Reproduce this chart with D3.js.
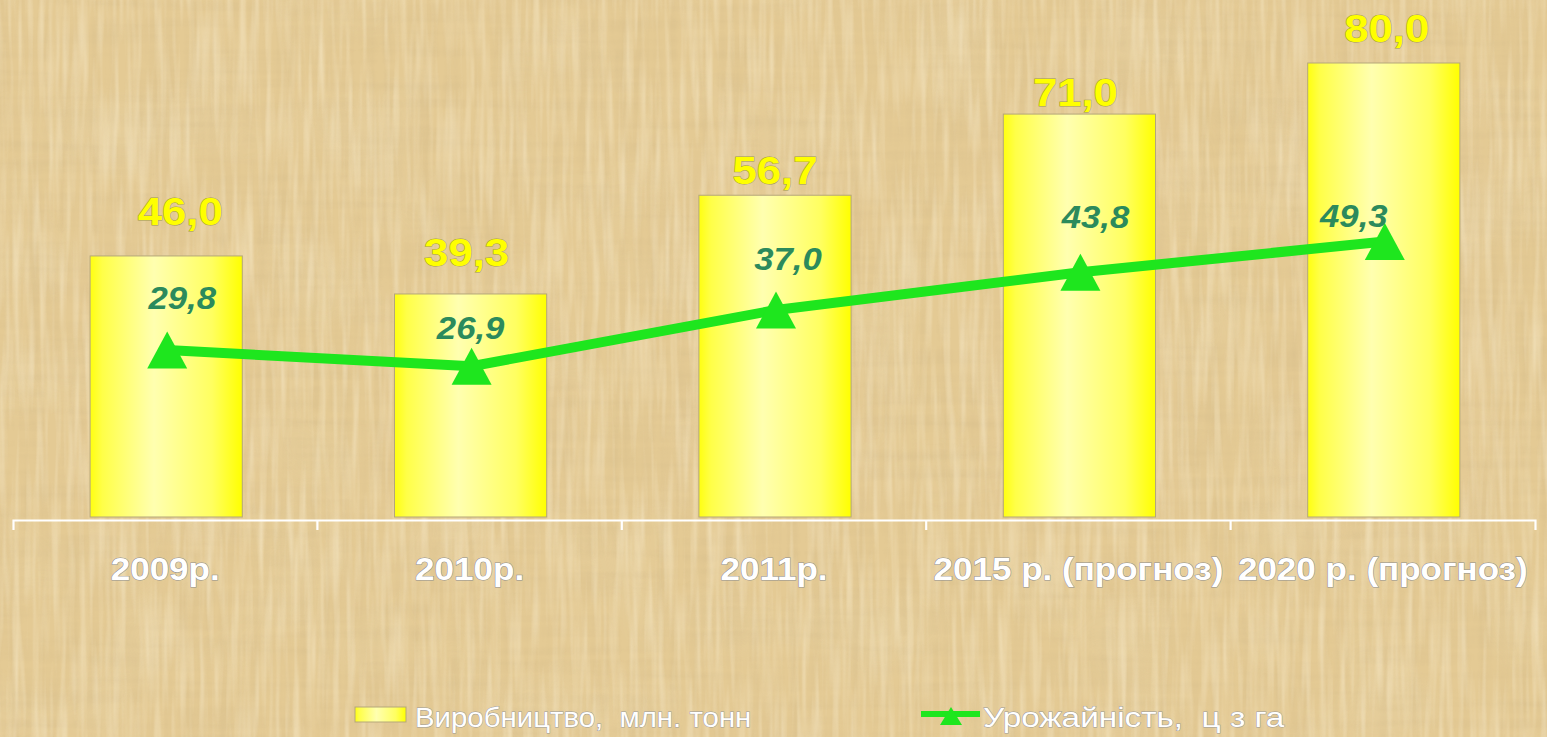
<!DOCTYPE html>
<html><head><meta charset="utf-8">
<script src="https://cdn.jsdelivr.net/npm/d3@7/dist/d3.min.js"></script>
<style>
html,body{margin:0;padding:0;background:#e4ca94;}
svg{display:block;}
text{font-family:"Liberation Sans",Arial,sans-serif;white-space:pre;}
</style></head>
<body>
<svg id="chart" width="1547" height="737"></svg>
<script>
// ---- data ----
const categories = ["2009р.", "2010р.", "2011р.", "2015 р. (прогноз)", "2020 р. (прогноз)"];
const production = [46.0, 39.3, 56.7, 71.0, 80.0];   // Виробництво, млн. тонн
const yieldValues = [29.8, 26.9, 37.0, 43.8, 49.3];  // Урожайність, ц з га
const seriesNames = ["Виробництво,  млн. тонн", "Урожайність,  ц з га"];

// label nudges (styling only, px)
const barLabelNudge = [[14,-31],[-4,-28],[0,-11],[-4,-8],[3,-21]];
const lineLabelNudge = [[15,-41],[-1,-27],[12,-40],[15,-44],[-31,-15]];

const W = 1547, H = 737;
const svg = d3.select("#chart");
const defs = svg.append("defs");

// paper texture
const f = defs.append("filter").attr("id","paper").attr("x",0).attr("y",0).attr("width","100%").attr("height","100%");
f.append("feTurbulence").attr("type","fractalNoise").attr("baseFrequency","0.006 0.1").attr("numOctaves",3).attr("seed",3).attr("result","h");
f.append("feTurbulence").attr("type","fractalNoise").attr("baseFrequency","0.1 0.006").attr("numOctaves",3).attr("seed",9).attr("result","v");
f.append("feComposite").attr("in","h").attr("in2","v").attr("operator","arithmetic").attr("k2",0.45).attr("k3",0.55).attr("result","n");
f.append("feColorMatrix").attr("in","n").attr("type","matrix")
  .attr("values","0 0 0 0 0.62  0 0 0 0 0.47  0 0 0 0 0.24  -1.6 0 0 0 0.95");
const f2 = defs.append("filter").attr("id","paper2").attr("x",0).attr("y",0).attr("width","100%").attr("height","100%");
f2.append("feTurbulence").attr("type","fractalNoise").attr("baseFrequency","0.15 0.01").attr("numOctaves",2).attr("seed",21).attr("result","h");
f2.append("feColorMatrix").attr("in","h").attr("type","matrix")
  .attr("values","0 0 0 0 0.98  0 0 0 0 0.90  0 0 0 0 0.70  1.6 0 0 0 -0.65");
const f3 = defs.append("filter").attr("id","paper3").attr("x",0).attr("y",0).attr("width","100%").attr("height","100%");
f3.append("feTurbulence").attr("type","fractalNoise").attr("baseFrequency","0.012 0.012").attr("numOctaves",1).attr("seed",5).attr("result","b");
f3.append("feColorMatrix").attr("in","b").attr("type","matrix")
  .attr("values","0 0 0 0 0.80  0 0 0 0 0.66  0 0 0 0 0.40  -2 0 0 0 1.05");

svg.append("rect").attr("width",W).attr("height",H).attr("fill","#e4ca94");
svg.append("rect").attr("width",W).attr("height",H).attr("filter","url(#paper3)").attr("opacity",0.5);
svg.append("rect").attr("width",W).attr("height",H).attr("filter","url(#paper)").attr("opacity",0.5);
svg.append("rect").attr("width",W).attr("height",H).attr("filter","url(#paper2)").attr("opacity",0.55);

// bar gradient
const g = defs.append("linearGradient").attr("id","barGrad").attr("x1","0").attr("x2","1").attr("y1","0").attr("y2","0");
[[0,"#ffff10"],[0.08,"#ffff48"],[0.42,"#ffffb0"],[0.8,"#ffff60"],[1,"#ffff00"]]
  .forEach(([o,c]) => g.append("stop").attr("offset",o).attr("stop-color",c));

// scales
const x = d3.scaleBand().domain(categories).range([13, 1535]).paddingInner(0).paddingOuter(0);
const y = d3.scaleLinear().domain([0, 90]).range([517, 6.25]);
const y2 = d3.scaleLinear().domain([0, 90]).range([516, 15]);
const bw = x.bandwidth();
const fmt = v => d3.format(".1f")(v).replace(".", ",");
const cx = c => x(c) + bw / 2;

// bars
svg.append("g").selectAll("rect").data(production).join("rect")
  .attr("x", (d,i) => cx(categories[i]) - bw/4 + 1)
  .attr("y", d => y(d))
  .attr("width", bw/2)
  .attr("height", d => y(0) - y(d))
  .attr("fill","url(#barGrad)")
  .attr("stroke","#b5a77a").attr("stroke-width",1);

// bar labels
svg.append("g").selectAll("text").data(production).join("text")
  .attr("transform",(d,i) => `translate(${cx(categories[i]) + 1 + barLabelNudge[i][0]},${y(d) + barLabelNudge[i][1]}) scale(1.12,1)`)
  .attr("text-anchor","middle")
  .attr("font-size",39).attr("font-weight","bold")
  .attr("fill","#ffff00").attr("stroke","#a39a4a").attr("stroke-width",1).attr("paint-order","stroke")
  .text(d => fmt(d));

// axis
const axisG = svg.append("g").attr("transform","translate(0,520)")
  .call(d3.axisBottom(x).tickSizeInner(0).tickSizeOuter(10).tickPadding(0));
axisG.select(".domain").attr("stroke","#ffffff").attr("stroke-width",2.2).attr("fill","none");
axisG.selectAll(".tick line").remove();
axisG.append("g").selectAll("line").data(categories.slice(1)).join("line")
  .attr("x1", d => x(d)).attr("x2", d => x(d)).attr("y1",0).attr("y2",10)
  .attr("stroke","#ffffff").attr("stroke-width",2.2);
axisG.selectAll(".tick text")
  .attr("y",60).attr("dy",0)
  .attr("transform","scale(1.13,1)")
  .attr("font-family","'Liberation Sans',Arial,sans-serif")
  .attr("font-size",31).attr("font-weight","bold")
  .attr("fill","#ffffff").attr("stroke","#8f8f8f").attr("stroke-width",1).attr("paint-order","stroke");

// line
const green = "#1ee61e";
const line = d3.line().x((d,i) => cx(categories[i]) + 2).y(d => y2(d));
svg.append("path").datum(yieldValues).attr("d", line)
  .attr("fill","none").attr("stroke",green).attr("stroke-width",10).attr("stroke-linejoin","round");
const tri = (w,h) => `M0,${-h/2}L${w/2},${h/2}L${-w/2},${h/2}Z`;
svg.append("g").selectAll("path").data(yieldValues).join("path")
  .attr("transform",(d,i) => `translate(${cx(categories[i]) + 2},${y2(d)})`)
  .attr("d", tri(40,37)).attr("fill",green);

// line labels
svg.append("g").selectAll("text").data(yieldValues).join("text")
  .attr("transform",(d,i) => `translate(${cx(categories[i]) + 2 + lineLabelNudge[i][0]},${y2(d) + lineLabelNudge[i][1]}) scale(1.12,1)`)
  .attr("text-anchor","middle")
  .attr("font-size",31).attr("font-weight","bold").attr("font-style","italic")
  .attr("fill","#2b8a5c")
  .text(d => fmt(d));

// legend
const leg = svg.append("g");
leg.append("rect").attr("x",355).attr("y",707).attr("width",51).attr("height",15)
  .attr("fill","url(#barGrad)").attr("stroke","#b5a77a");
leg.append("text").attr("transform","translate(415,727) scale(1.05,1)")
  .attr("font-size",28).attr("fill","#ffffff").attr("stroke","#9a9a9a").attr("stroke-width",0.9).attr("paint-order","stroke")
  .text(seriesNames[0]);
leg.append("line").attr("x1",921).attr("x2",980).attr("y1",714).attr("y2",714)
  .attr("stroke",green).attr("stroke-width",6);
leg.append("path").attr("transform","translate(951,716)").attr("d",tri(22,18)).attr("fill",green);
leg.append("text").attr("transform","translate(983,727) scale(1.19,1)")
  .attr("font-size",28).attr("fill","#ffffff").attr("stroke","#9a9a9a").attr("stroke-width",0.9).attr("paint-order","stroke")
  .text(seriesNames[1]);
</script>
</body></html>
